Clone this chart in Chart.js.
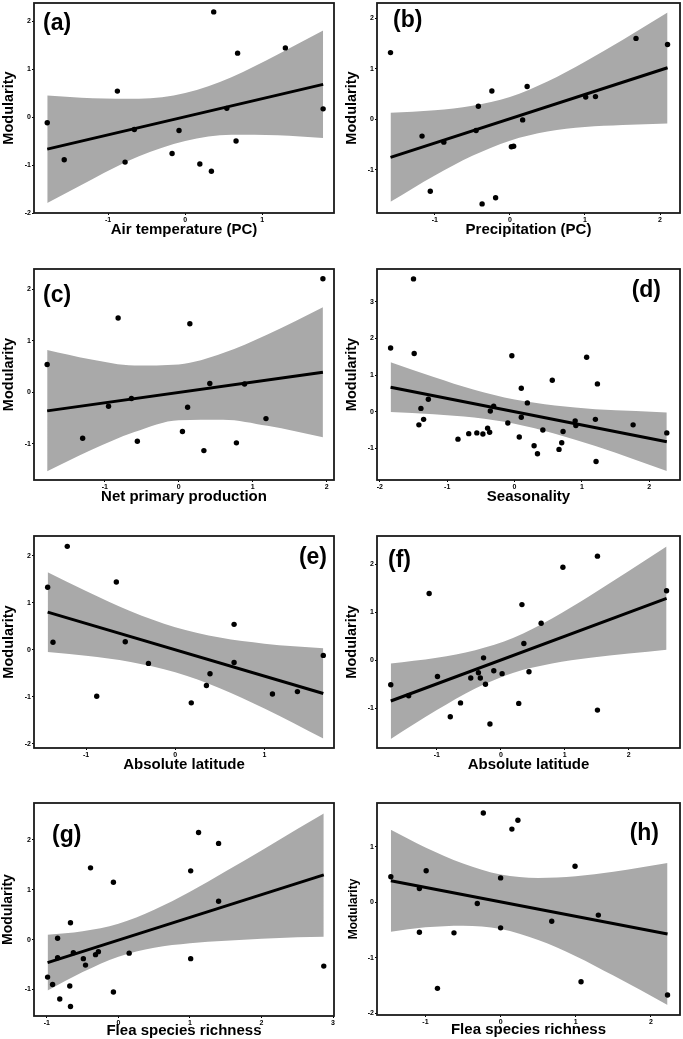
<!DOCTYPE html>
<html lang="en">
<head>
    <meta charset="UTF-8">
    <title>Modularity vs environmental predictors</title>
    <script src="https://cdn.jsdelivr.net/npm/chart.js"></script>
    <style>
        body {
            margin: 0;
            background: #fff;
        }
        #fig {
            position: relative;
            width: 683px;
            height: 1039px;
            overflow: hidden;
        }
        #fig canvas {
            position: absolute;
        }
    </style>
</head>
<body>
    <div id="fig"></div>

    <script>
        // (a) Air temperature (PC)
        const aX = [-1.79, -1.57, -0.88, -0.78, -0.66, -0.17, -0.08, 0.19, 0.34, 0.37, 0.54, 0.66, 0.68, 1.30, 1.79];
        const aY = [-0.12, -0.89, 0.54, -0.94, -0.26, -0.76, -0.28, -0.98, -1.13, 2.19, 0.18, -0.50, 1.33, 1.44, 0.17];
        const aFitX = [-1.79, 1.79];
        const aFitY = [-0.67, 0.68];
        const aBandX = [-1.79, -1.2, -0.6, 0, 0.6, 1.2, 1.79];
        const aUpper = [0.45, 0.39, 0.38, 0.50, 0.83, 1.30, 1.80];
        const aLower = [-1.79, -1.29, -0.82, -0.50, -0.37, -0.38, -0.44];

        // (b) Precipitation (PC)
        const bX = [-1.59, -1.17, -1.06, -0.88, -0.45, -0.42, -0.37, -0.24, -0.19, 0.02, 0.05, 0.17, 0.23, 1.01, 1.14, 1.68, 2.10];
        const bY = [1.32, -0.33, -1.42, -0.45, -0.22, 0.26, -1.67, 0.56, -1.55, -0.54, -0.53, -0.01, 0.65, 0.44, 0.45, 1.60, 1.48];
        const bFitX = [-1.59, 2.10];
        const bFitY = [-0.75, 1.02];
        const bBandX = [-1.59, -1, -0.5, 0, 0.5, 1, 1.5, 2.1];
        const bUpper = [0.13, 0.18, 0.27, 0.44, 0.75, 1.14, 1.57, 2.11];
        const bLower = [-1.63, -1.11, -0.72, -0.42, -0.24, -0.15, -0.11, -0.08];

        // (c) Net primary production
        const cX = [-1.78, -1.30, -0.95, -0.82, -0.64, -0.56, 0.05, 0.12, 0.15, 0.34, 0.42, 0.78, 0.89, 1.18, 1.95];
        const cY = [0.54, -0.89, -0.27, 1.44, -0.12, -0.95, -0.76, -0.29, 1.33, -1.13, 0.17, -0.98, 0.16, -0.51, 2.20];
        const cFitX = [-1.78, 1.95];
        const cFitY = [-0.36, 0.39];
        const cBandX = [-1.78, -1.2, -0.6, 0, 0.6, 1.2, 1.95];
        const cUpper = [0.82, 0.64, 0.52, 0.54, 0.76, 1.12, 1.65];
        const cLower = [-1.53, -1.13, -0.77, -0.54, -0.53, -0.65, -0.87];

        // (d) Seasonality
        const dX = [-1.84, -1.50, -1.49, -1.42, -1.39, -1.35, -1.28, -0.84, -0.68, -0.56, -0.47, -0.40, -0.37, -0.36, -0.31, -0.10, -0.04, 0.07,
                    0.10, 0.10, 0.19, 0.29, 0.34, 0.42, 0.56, 0.66, 0.70, 0.72, 0.90, 0.91, 1.07, 1.20, 1.21, 1.23, 1.76, 2.26];
        const dY = [1.74, 3.63, 1.59, -0.36, 0.09, -0.21, 0.34, -0.75, -0.60, -0.58, -0.61, -0.45, -0.56, 0.02, 0.15, -0.31, 1.53, -0.69,
                    0.64, -0.15, 0.24, -0.93, -1.15, -0.50, 0.86, -1.03, -0.85, -0.54, -0.25, -0.38, 1.49, -0.21, -1.36, 0.76, -0.36, -0.58];
        const dFitX = [-1.84, 2.26];
        const dFitY = [0.67, -0.82];
        const dBandX = [-1.84, -1.2, -0.6, 0, 0.6, 1.2, 1.8, 2.26];
        const dUpper = [1.35, 0.95, 0.60, 0.33, 0.17, 0.07, 0.02, -0.02];
        const dLower = [-0.01, -0.07, -0.16, -0.33, -0.60, -0.94, -1.32, -1.62];

        // (e) Absolute latitude
        const eX = [-1.43, -1.37, -1.21, -0.88, -0.66, -0.56, -0.30, 0.18, 0.35, 0.39, 0.66, 0.66, 1.09, 1.37, 1.66];
        const eY = [1.33, 0.16, 2.20, -0.99, 1.44, 0.17, -0.29, -1.13, -0.76, -0.51, 0.54, -0.27, -0.94, -0.89, -0.12];
        const eFitX = [-1.43, 1.66];
        const eFitY = [0.80, -0.93];
        const eBandX = [-1.43, -1, -0.5, 0, 0.5, 1, 1.66];
        const eUpper = [1.65, 1.25, 0.82, 0.48, 0.26, 0.13, 0.03];
        const eLower = [-0.05, -0.13, -0.26, -0.48, -0.82, -1.25, -1.89];

        // (f) Absolute latitude
        const fX = [-1.72, -1.44, -1.12, -0.99, -0.79, -0.63, -0.47, -0.35, -0.32, -0.27, -0.24, -0.17, -0.11, 0.02, 0.28, 0.33, 0.36, 0.44,
                    0.63, 0.97, 1.51, 1.51, 2.59];
        const fY = [-0.51, -0.74, 1.39, -0.34, -1.18, -0.89, -0.37, -0.26, -0.37, 0.05, -0.50, -1.33, -0.22, -0.28, -0.90, 1.16, 0.35, -0.24,
                    0.77, 1.94, -1.04, 2.17, 1.45];
        const fFitX = [-1.72, 2.59];
        const fFitY = [-0.85, 1.29];
        const fBandX = [-1.72, -1, -0.4, 0.2, 0.8, 1.4, 2, 2.59];
        const fUpper = [-0.07, 0.05, 0.21, 0.47, 0.87, 1.35, 1.86, 2.37];
        const fLower = [-1.64, -1.04, -0.59, -0.26, -0.07, 0.05, 0.14, 0.22];

        // (g) Flea species richness
        const gX = [-0.99, -0.92, -0.85, -0.85, -0.82, -0.68, -0.67, -0.67, -0.63, -0.49, -0.46, -0.39, -0.32, -0.28, -0.07, -0.07, 0.15, 1.01,
                    1.01, 1.12, 1.40, 1.40, 2.87];
        const gY = [-0.75, -0.90, 0.03, -0.36, -1.19, -0.93, 0.34, -1.34, -0.26, -0.38, -0.51, 1.44, -0.30, -0.24, 1.15, -1.05, -0.27, 1.38,
                    -0.38, 2.15, 1.93, 0.77, -0.53];
        const gFitX = [-0.99, 2.87];
        const gFitY = [-0.46, 1.30];
        const gBandX = [-0.99, -0.5, 0, 0.5, 1, 1.5, 2, 2.5, 2.87];
        const gUpper = [0.10, 0.17, 0.32, 0.60, 0.96, 1.37, 1.79, 2.22, 2.53];
        const gLower = [-1.02, -0.65, -0.34, -0.16, -0.07, -0.02, 0.02, 0.05, 0.06];

        // (h) Flea species richness
        const hX = [-1.46, -1.08, -1.08, -0.99, -0.84, -0.62, -0.31, -0.23, 0.00, 0.00, 0.15, 0.23, 0.68, 0.99, 1.07, 1.30, 2.22];
        const hY = [0.46, 0.25, -0.54, 0.57, -1.55, -0.55, -0.02, 1.61, 0.44, -0.46, 1.32, 1.48, -0.34, 0.65, -1.43, -0.23, -1.67];
        const hFitX = [-1.46, 2.22];
        const hFitY = [0.39, -0.57];
        const hBandX = [-1.46, -1, -0.5, 0, 0.5, 1, 1.5, 2.22];
        const hUpper = [1.31, 0.99, 0.70, 0.50, 0.44, 0.47, 0.55, 0.71];
        const hLower = [-0.53, -0.45, -0.42, -0.48, -0.68, -0.97, -1.32, -1.85];

        const FONT = 'Arial, "Liberation Sans", Helvetica, sans-serif';
        const YW = 34;      // width kept for the y axis (ticks + title)
        const XH = 28;      // height kept for the x axis
        const PAD_T = 6;
        const PAD_R = 3;

        // frame = [left, top, right, bottom] of the plot box on the page
        const panels = [
            { tag: '(a)', x: aX, y: aY, fitX: aFitX, fitY: aFitY, bandX: aBandX, upper: aUpper, lower: aLower,
              xTitle: 'Air temperature (PC)', frame: [34, 3, 335, 213], xr: [-1.962, 1.931], yr: [-2, 2.375],
              tagPos: { dx: 9, dy: 9 } },
            { tag: '(b)', x: bX, y: bY, fitX: bFitX, fitY: bFitY, bandX: bBandX, upper: bUpper, lower: bLower,
              xTitle: 'Precipitation (PC)', frame: [377, 3, 681, 213], xr: [-1.77, 2.266], yr: [-1.85, 2.30],
              tagPos: { dx: 16, dy: 6 } },
            { tag: '(c)', x: cX, y: cY, fitX: cFitX, fitY: cFitY, bandX: cBandX, upper: cUpper, lower: cLower,
              xTitle: 'Net primary production', frame: [34, 269, 335, 480], xr: [-1.958, 2.10], yr: [-1.70, 2.39],
              tagPos: { dx: 9, dy: 15 } },
            { tag: '(d)', x: dX, y: dY, fitX: dFitX, fitY: dFitY, bandX: dBandX, upper: dUpper, lower: dLower,
              xTitle: 'Seasonality', frame: [377, 269, 681, 480], xr: [-2.042, 2.456], yr: [-1.867, 3.90],
              tagPos: { dx: 19, dy: 10, right: true } },
            { tag: '(e)', x: eX, y: eY, fitX: eFitX, fitY: eFitY, bandX: eBandX, upper: eUpper, lower: eLower,
              xTitle: 'Absolute latitude', frame: [34, 536, 335, 748], xr: [-1.583, 1.78], yr: [-2.09, 2.42],
              tagPos: { dx: 7, dy: 10, right: true } },
            { tag: '(f)', x: fX, y: fY, fitX: fFitX, fitY: fFitY, bandX: fBandX, upper: fUpper, lower: fLower,
              xTitle: 'Absolute latitude', frame: [377, 536, 681, 748], xr: [-1.935, 2.80], yr: [-1.83, 2.59],
              tagPos: { dx: 11, dy: 13 } },
            { tag: '(g)', x: gX, y: gY, fitX: gFitX, fitY: gFitY, bandX: gBandX, upper: gUpper, lower: gLower,
              xTitle: 'Flea species richness', frame: [34, 803, 335, 1016], xr: [-1.18, 3.013], yr: [-1.53, 2.74],
              tagPos: { dx: 18, dy: 21 }, xTitlePad: 4, yTitleSize: 14 },
            { tag: '(h)', x: hX, y: hY, fitX: hFitX, fitY: hFitY, bandX: hBandX, upper: hUpper, lower: hLower,
              xTitle: 'Flea species richness', frame: [377, 803, 681, 1015], xr: [-1.644, 2.386], yr: [-2.03, 1.79],
              tagPos: { dx: 21, dy: 19, right: true }, xTitlePad: 4, yTitleSize: 12, yTitlePad: 3 }
        ];

        // box round the plot area plus the panel letter
        const framePlugin = {
            id: 'frame',
            afterDatasetsDraw(chart, args, opts) {
                const { ctx, chartArea } = chart;
                const { left, top, right, bottom } = chartArea;
                ctx.save();
                ctx.strokeStyle = '#1a1a1a';
                ctx.lineWidth = 1.8;
                ctx.strokeRect(left, top, right - left, bottom - top);
                ctx.font = 'bold 23px ' + FONT;
                ctx.fillStyle = '#000';
                ctx.textBaseline = 'top';
                if (opts.right) {
                    ctx.textAlign = 'right';
                    ctx.fillText(opts.text, right - opts.dx, top + opts.dy);
                } else {
                    ctx.textAlign = 'left';
                    ctx.fillText(opts.text, left + opts.dx, top + opts.dy);
                }
                ctx.restore();
            }
        };

        function toPoints(xs, ys) {
            return xs.map((x, i) => ({ x: x, y: ys[i] }));
        }

        function tickFont() {
            return { size: 7, weight: 'bold', family: FONT };
        }

        function makePanel(p) {
            const [l, t, r, b] = p.frame;
            const canvas = document.createElement('canvas');
            canvas.width = r - l + YW + PAD_R;
            canvas.height = b - t + XH + PAD_T;
            canvas.style.left = (l - YW) + 'px';
            canvas.style.top = (t - PAD_T) + 'px';
            document.getElementById('fig').appendChild(canvas);

            new Chart(canvas, {
                type: 'line',
                data: {
                    datasets: [
                        {
                            label: 'Sites',
                            data: toPoints(p.x, p.y),
                            showLine: false,
                            pointRadius: 2.7,
                            pointBorderWidth: 0,
                            pointBackgroundColor: '#000',
                            order: 0
                        },
                        {
                            label: 'Fit',
                            data: toPoints(p.fitX, p.fitY),
                            borderColor: '#000',
                            borderWidth: 3,
                            pointRadius: 0,
                            order: 1
                        },
                        {
                            label: 'Upper CI',
                            data: toPoints(p.bandX, p.upper),
                            borderColor: 'transparent',
                            backgroundColor: '#a9a9a9',
                            pointRadius: 0,
                            fill: '+1',
                            cubicInterpolationMode: 'monotone',
                            order: 2
                        },
                        {
                            label: 'Lower CI',
                            data: toPoints(p.bandX, p.lower),
                            borderColor: 'transparent',
                            pointRadius: 0,
                            fill: false,
                            cubicInterpolationMode: 'monotone',
                            order: 3
                        }
                    ]
                },
                options: {
                    responsive: false,
                    animation: false,
                    events: [],
                    layout: { padding: { top: PAD_T, right: PAD_R, left: 0, bottom: 0 } },
                    plugins: {
                        legend: { display: false },
                        tooltip: { enabled: false },
                        frame: { text: p.tag, dx: p.tagPos.dx, dy: p.tagPos.dy, right: !!p.tagPos.right }
                    },
                    scales: {
                        x: {
                            type: 'linear',
                            min: p.xr[0],
                            max: p.xr[1],
                            afterFit: s => { s.height = XH; },
                            border: { display: false },
                            grid: { drawOnChartArea: false, tickLength: 2, color: '#000' },
                            ticks: { stepSize: 1, includeBounds: false, padding: 1, color: '#000', font: tickFont() },
                            title: {
                                display: true,
                                text: p.xTitle,
                                color: '#000',
                                font: { size: 15, weight: 'bold', family: FONT },
                                padding: { top: 0, bottom: p.xTitlePad || 2 }
                            }
                        },
                        y: {
                            type: 'linear',
                            min: p.yr[0],
                            max: p.yr[1],
                            afterFit: s => { s.width = YW; },
                            border: { display: false },
                            grid: { drawOnChartArea: false, tickLength: 2, color: '#000' },
                            ticks: { stepSize: 1, includeBounds: false, padding: 1, color: '#000', font: tickFont() },
                            title: {
                                display: true,
                                text: 'Modularity',
                                color: '#000',
                                font: { size: p.yTitleSize || 14.5, weight: 'bold', family: FONT },
                                padding: { top: p.yTitlePad || 0, bottom: 0 }
                            }
                        }
                    }
                },
                plugins: [framePlugin]
            });
        }

        panels.forEach(makePanel);
    </script>
</body>
</html>
